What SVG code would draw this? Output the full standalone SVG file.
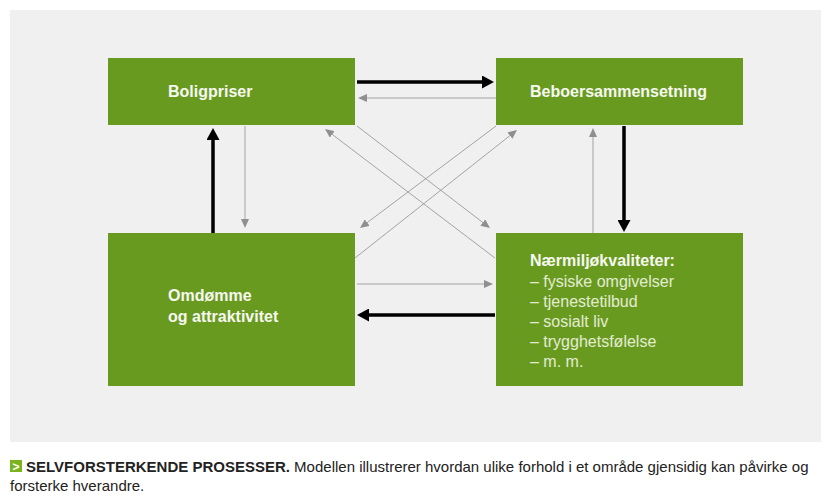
<svg xmlns="http://www.w3.org/2000/svg" width="830" height="498" viewBox="0 0 830 498">
  <style>
    .box { fill: #699a20; }
    .title { font-family: "Liberation Sans", Arial, sans-serif; font-weight: bold; font-size: 16px; fill: #f6f8f0; }
    .item { font-family: "Liberation Sans", Arial, sans-serif; font-size: 16px; fill: #e3ecd3; }
    .strong { stroke: #000; stroke-width: 3.5; fill: none; marker-end: url(#headBlack); }
    .weak { stroke: #a3a3a3; stroke-width: 1; fill: none; marker-end: url(#headGray); }
    .cap { font-family: "Liberation Sans", Arial, sans-serif; font-size: 15px; fill: #222; }
  </style>
  <defs>
    <marker id="headBlack" markerUnits="userSpaceOnUse" markerWidth="12" markerHeight="13" refX="2" refY="6.5" orient="auto">
      <path d="M0,0 L12,6.5 L0,13 z" fill="#000"/>
    </marker>
    <marker id="headGray" markerUnits="userSpaceOnUse" markerWidth="9" markerHeight="8" refX="1" refY="4" orient="auto">
      <path d="M0,0 L9,4 L0,8 z" fill="#8f8f8f"/>
    </marker>
  </defs>

  <rect x="0" y="0" width="830" height="498" fill="#ffffff"/>
  <rect x="10" y="10" width="811" height="432" fill="#f0f0f0"/>

  <g id="connectors">
    <line class="strong" x1="357" y1="82" x2="484" y2="82"/>
    <line class="weak" x1="496" y1="98" x2="366" y2="98"/>
    <line class="strong" x1="624" y1="126" x2="624" y2="222"/>
    <line class="weak" x1="593" y1="233" x2="593" y2="136"/>
    <line class="strong" x1="213" y1="233" x2="213" y2="138"/>
    <line class="weak" x1="245" y1="126" x2="245" y2="220"/>
    <line class="strong" x1="495" y1="315" x2="367" y2="315"/>
    <line class="weak" x1="357" y1="284" x2="485" y2="284"/>
    <line class="weak" x1="495" y1="258" x2="331.4" y2="133.8"/>
    <line class="weak" x1="357" y1="126" x2="483.6" y2="223.1"/>
    <line class="weak" x1="496" y1="126" x2="366.4" y2="223.2"/>
    <line class="weak" x1="355" y1="258" x2="510.7" y2="135"/>
  </g>

  <g id="boligpriser">
    <rect class="box" x="108" y="58" width="247" height="67"/>
    <text class="title" x="168" y="97">Boligpriser</text>
  </g>
  <g id="beboersammensetning">
    <rect class="box" x="496" y="58" width="247" height="67"/>
    <text class="title" x="530" y="97">Beboersammensetning</text>
  </g>
  <g id="omdomme">
    <rect class="box" x="108" y="233" width="247" height="153"/>
    <text class="title" x="168" y="301">Omdømme</text>
    <text class="title" x="168" y="322">og attraktivitet</text>
  </g>
  <g id="narmiljo">
    <rect class="box" x="496" y="233" width="247" height="153"/>
    <text class="title" x="530" y="266">Nærmiljøkvaliteter:</text>
    <text class="item" x="530" y="287">– fysiske omgivelser</text>
    <text class="item" x="530" y="307">– tjenestetilbud</text>
    <text class="item" x="530" y="327">– sosialt liv</text>
    <text class="item" x="530" y="347">– trygghetsfølelse</text>
    <text class="item" x="530" y="367">– m. m.</text>
  </g>

  <g id="caption">
    <rect x="10" y="460" width="12" height="12" fill="#7bb31f"/>
    <text x="12.5" y="470.5" font-family="Liberation Sans, Arial, sans-serif" font-size="12" font-weight="bold" fill="#ffffff">&gt;</text>
    <text class="cap" x="26" y="472"><tspan font-weight="bold">SELVFORSTERKENDE PROSESSER.</tspan> Modellen illustrerer hvordan ulike forhold i et område gjensidig kan påvirke og</text>
    <text class="cap" x="10" y="491">forsterke hverandre.</text>
  </g>
</svg>
